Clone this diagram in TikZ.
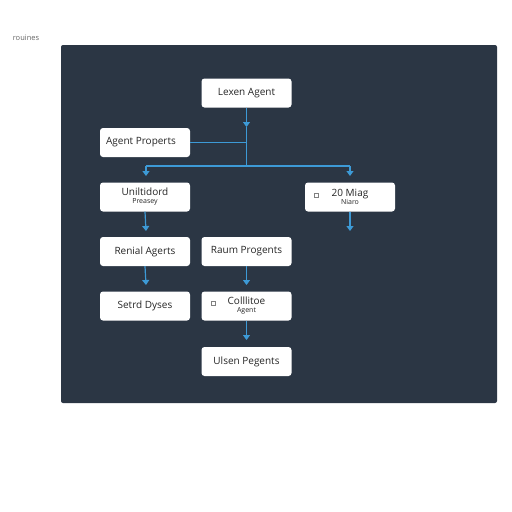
\documentclass[tikz,border=0pt]{standalone}
\usepackage{fontspec}
\setmainfont{Open Sans}
\usetikzlibrary{arrows.meta}
\definecolor{panel}{HTML}{2B3644}
\definecolor{link}{HTML}{3D9AD6}
\tikzset{
  box/.style={draw=none,fill=white,rounded corners=3pt,minimum width=90pt,minimum height=29pt,inner sep=0pt,font=\fontsize{10}{11}\selectfont,text=black!85},
  sub/.style={},
  conn/.style={draw=link,line width=1.2pt},
  arr/.style={conn,-{Triangle[width=7pt,length=5pt]}},
  chk/.style={draw=black!50,line width=0.4pt,minimum size=4.5pt,inner sep=0pt}
}
\newcommand{\subt}[1]{{\fontsize{7}{8}\selectfont #1}}
\begin{document}
\begin{tikzpicture}[x=1pt,y=-1pt]
\useasboundingbox (0,0) rectangle (512,512);
\fill[white] (0,0) rectangle (512,512);
\fill[panel,rounded corners=2pt] (61,45) rectangle (497,403);
\node[font=\fontsize{7.5}{8}\selectfont,text=black!60] (title) at (26,38) {rouines};

\node[box] (lexen) at (246.5,93) {Lexen Agent};
\node[box] (props) at (145,142.5) {\hspace*{-8pt}Agent Properts};
\node[box,align=center] (unil) at (145,197) {Uniltidord\\[-3pt]\subt{Preasey}};
\node[box,align=center] (miag) at (350,197) {20 Miag\\[-3pt]\subt{Niaro}};
\node[chk] (c1) at (316,195) {};
\node[box] (renial) at (145,251.5) {Renial Agerts};
\node[box] (raum) at (246.5,251.5) {Raum Progents};
\node[box] (setrd) at (145,306) {Setrd Dyses};
\node[box,align=center] (coll) at (246.5,306) {Colllitoe\\[-3pt]\subt{Agent}};
\node[chk] (c2) at (213,303) {};
\node[box] (ulsen) at (246.5,361.5) {Ulsen Pegents};

\coordinate (a1) at (246.5,127);
\coordinate (j1) at (246.5,142.5);
\coordinate (bus) at (246.5,166);
\coordinate (busl) at (146,166);
\coordinate (busr) at (350,166);
\coordinate (tl) at (146,176);
\coordinate (tr) at (350,176);

\draw[arr] (lexen.south) -- (a1);
\draw[conn] (a1) -- (bus);
\draw[conn] (props.east) -- (j1);
\draw[conn] (busl) -- (busr);
\draw[arr] (busl) -- (tl);
\draw[arr] (busr) -- (tr);

\coordinate (u2) at (146,231);
\coordinate (m2) at (350,231);
\draw[arr] (unil.south) -- (u2);
\draw[arr] (miag.south) -- (m2);
\coordinate (r2) at (146,285);
\coordinate (p2) at (246.5,285);
\draw[arr] (renial.south) -- (r2);
\draw[arr] (raum.south) -- (p2);
\coordinate (k2) at (246.5,340);
\draw[arr] (coll.south) -- (k2);
\end{tikzpicture}
\end{document}
